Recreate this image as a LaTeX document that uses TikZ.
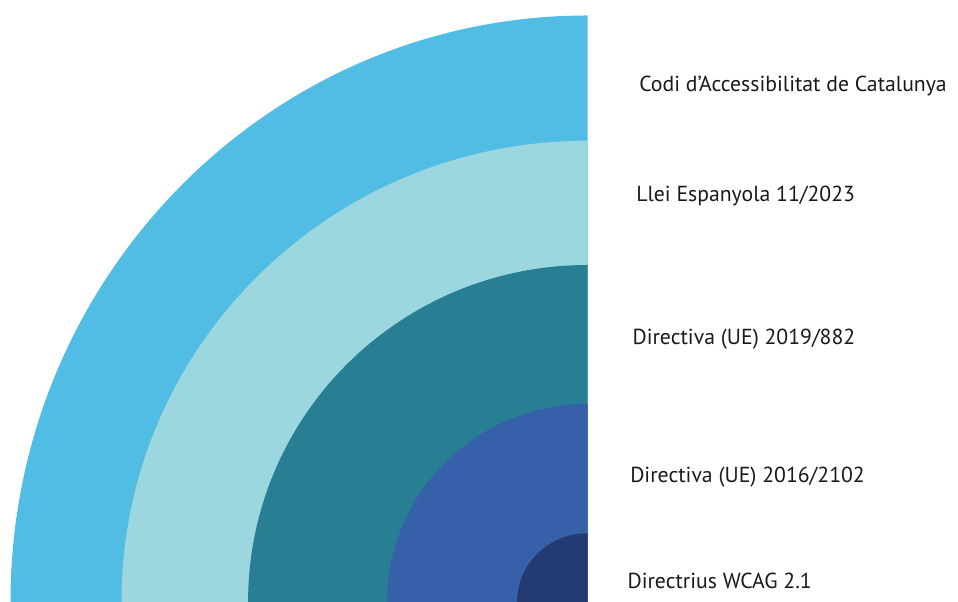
\documentclass[tikz,border=0pt]{standalone}
\usepackage{fontspec}
\setmainfont{PT Sans}
\usetikzlibrary{calc}
\definecolor{ringcat}{HTML}{52BDE4}
\definecolor{ringesp}{HTML}{9CD6DF}
\definecolor{ringeu}{HTML}{287E92}
\definecolor{ringweb}{HTML}{3660AA}
\definecolor{ringwcag}{HTML}{233A72}
\tikzset{
  lbl/.style={anchor=base west, inner sep=0pt, font=\fontsize{16.3}{19}\selectfont, text=black!90}
}
\begin{document}
\begin{tikzpicture}[x=0.75pt,y=0.75pt]
            \useasboundingbox (0,0) rectangle (958,602);
            \clip (0,0) rectangle (958,602);
            \coordinate (c) at (587.5,0);
            % rings, outer first
            \fill[ringcat] (c) -- ++(0,586.5) arc[start angle=90, end angle=180, x radius=577, y radius=586.5] -- cycle;
            \fill[ringesp] (c) -- ++(0,461.3) arc[start angle=90, end angle=180, x radius=466, y radius=461.3] -- cycle;
            \fill[ringeu] (c) -- ++(0,337) arc[start angle=90, end angle=180, x radius=339.4, y radius=337] -- cycle;
            \fill[ringweb] (c) -- ++(0,198) arc[start angle=90, end angle=180, x radius=200.4, y radius=198] -- cycle;
            \fill[ringwcag] (c) -- ++(0,68.7) arc[start angle=90, end angle=180, x radius=70.4, y radius=68.7] -- cycle;

            \node[lbl] (codi) at (639,510.3) {Codi d’Accessibilitat de Catalunya};
            \node[lbl] (llei) at (636,400.3) {Llei Espanyola 11/2023};
            \node[lbl] (dir19) at (632.3,257.7) {Directiva (UE) 2019/882};
            \node[lbl] (dir16) at (630,119.7) {Directiva (UE) 2016/2102};
            \node[lbl] (wcag) at (627.3,13.7) {Directrius WCAG 2.1};
        \end{tikzpicture}
\end{document}
